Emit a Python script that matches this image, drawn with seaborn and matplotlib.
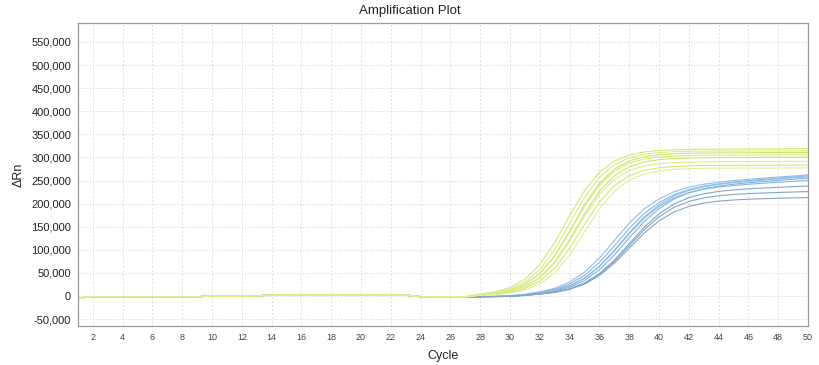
import matplotlib
matplotlib.use("Agg")
import matplotlib.pyplot as plt
import matplotlib.ticker as mticker
import seaborn as sns
import pandas as pd

# ---------------- data (ΔRn per cycle) ----------------
cycles = list(range(1, 51))

# shared baseline, cycles 1..27
baseline = [-4500, -1500, -1500, -1500, -1500, -1500, -1500, -1500, -1500, -300,
            0, 0, 500, 1800, 2000, 2000, 2000, 2000, 2000, 2000,
            2000, 2000, 1800, -1500, -2000, -2000, -2000]

# cycles 28..50 for each well
green_1 = [4300, 8900, 18300, 36300, 67900, 115600, 173800, 228200, 267900, 292200, 305300, 311800,
           315000, 316400, 317200, 317600, 317800, 318000, 318200, 318400, 318500, 318600, 318700]
green_2 = [3500, 7200, 14800, 29800, 57100, 100500, 157000, 213500, 256900, 284200, 299200, 306800,
           310500, 312400, 313400, 313700, 313800, 313900, 314000, 314100, 314200, 314300, 314400]
green_3 = [2900, 6000, 12400, 25300, 48800, 87600, 140600, 197300, 243800, 274700, 292300, 301300,
           305800, 308000, 309100, 309500, 309800, 310000, 310200, 310400, 310500, 310600, 310800]
green_4 = [2800, 5900, 12200, 24900, 48000, 86200, 138300, 194100, 239900, 270200, 287600, 296500,
           300900, 303000, 304100, 304500, 304800, 305000, 305200, 305300, 305500, 305600, 305700]
green_5 = [2300, 4800, 9900, 20400, 39900, 73500, 122100, 177900, 226500, 260100, 279900, 290100,
           295200, 297600, 298800, 299400, 299700, 300000, 300100, 300200, 300300, 300400, 300500]
green_6 = [2200, 4700, 9600, 19800, 38700, 71300, 118400, 172600, 219700, 252300, 271500, 281400,
           286300, 288700, 289800, 290400, 290700, 291000, 291000, 291200, 291300, 291400, 291500]
green_7 = [1800, 3800, 7900, 16300, 32300, 60400, 102900, 154700, 203100, 238400, 260100, 271700,
           277500, 280300, 281700, 282400, 282700, 283000, 283000, 283100, 283200, 283300, 283400]
green_8 = [1400, 3000, 6400, 13000, 26300, 50400, 88600, 138500, 188400, 226600, 250700, 264000,
           270600, 274000, 275600, 276400, 276700, 276900, 277000, 277000, 277100, 277200, 277300]

blue_1 = [-1300, -700, 500, 3800, 9000, 16600, 29900, 51400, 82300, 120000, 157700, 188600,
          210100, 225600, 235500, 241800, 246300, 249700, 252500, 255000, 257400, 259700, 262000]
blue_2 = [-1400, -900, 100, 3000, 7600, 14200, 25700, 44700, 72800, 108400, 146100, 178400,
          201900, 219300, 230400, 237700, 242700, 246500, 249600, 252400, 255000, 257500, 260000]
blue_3 = [-1500, -1100, -200, 2400, 6400, 12000, 21900, 38800, 64700, 98900, 137100, 171300,
          197200, 216300, 228400, 236200, 241500, 245200, 248300, 250900, 253400, 255700, 258000]
blue_4 = [-1600, -1200, -500, 1900, 5500, 10300, 18900, 33600, 56900, 88800, 125900, 161100,
          188900, 209900, 223400, 232100, 237800, 241900, 245100, 247800, 250300, 252700, 254900]
blue_5 = [-1500, -1100, -200, 2300, 6300, 11800, 21600, 38200, 63600, 97200, 134800, 168400,
          193800, 212200, 223800, 231100, 236000, 239200, 241900, 244100, 246200, 248100, 250000]
blue_6 = [-1700, -1300, -800, 1400, 4500, 8400, 15600, 28100, 48400, 77500, 113000, 148500,
          177600, 199100, 212800, 221200, 226300, 229600, 232000, 233700, 235300, 236700, 238000]
blue_7 = [-1700, -1400, -800, 1300, 4300, 8100, 15000, 27100, 46700, 74800, 109000, 143200,
          171300, 191700, 204600, 212300, 216800, 219700, 221600, 222900, 224100, 225100, 226000]
blue_8 = [-1700, -1400, -900, 1200, 4100, 7700, 14300, 25800, 44300, 71000, 103500, 136000,
          162700, 181800, 193900, 201100, 205300, 207800, 209500, 210600, 211500, 212300, 213000]

y_ticks = [-50000, 0, 50000, 100000, 150000, 200000, 250000, 300000, 350000, 400000, 450000, 500000, 550000]
x_ticks = list(range(2, 51, 2))

green_wells = [green_1, green_2, green_3, green_4, green_5, green_6, green_7, green_8]
blue_wells = [blue_1, blue_2, blue_3, blue_4, blue_5, blue_6, blue_7, blue_8]

green_colors = ["#d4e874", "#dbec84", "#d0e56c", "#d8ea7c", "#cfe46a", "#dcee8c", "#d3e772", "#e0f096"]
blue_colors = ["#8dbde8", "#86b7e4", "#93c0ea", "#82b3e0", "#8bb7dd", "#7ea9cd", "#82a8c6", "#84a6c2"]

rows = []
palette = {}
for i, w in enumerate(blue_wells):
    name = f"B{i+1}"
    palette[name] = blue_colors[i]
    for c, v in zip(cycles, baseline + w):
        rows.append({"Cycle": c, "dRn": v, "well": name})
for i, w in enumerate(green_wells):
    name = f"G{i+1}"
    palette[name] = green_colors[i]
    for c, v in zip(cycles, baseline + w):
        rows.append({"Cycle": c, "dRn": v, "well": name})
df = pd.DataFrame(rows)

# ---------------- plot ----------------
sns.set_theme(style="white")
plt.rcParams["font.family"] = ["Liberation Sans", "DejaVu Sans"]

fig = plt.figure(figsize=(8.2, 3.65), dpi=100)
ax = fig.add_axes([78 / 820, 1 - 326 / 365, (808 - 78) / 820, (326 - 23) / 365])

sns.lineplot(data=df, x="Cycle", y="dRn", hue="well", palette=palette,
             estimator=None, legend=False, linewidth=0.8, ax=ax, sort=False)

ax.set_xlim(1, 50)
ax.set_ylim(-65000, 591000)
ax.set_xticks(x_ticks)
ax.set_yticks(y_ticks)
ax.yaxis.set_major_formatter(mticker.FuncFormatter(lambda v, p: f"{int(v):,}"))

ax.xaxis.grid(True, color="#e0e0e0", linestyle=(0, (2, 2)), linewidth=0.7)
ax.yaxis.grid(True, color="#cccccc", linestyle=(0, (1, 2)), linewidth=0.7)
ax.set_axisbelow(True)

for s in ax.spines.values():
    s.set_color("#9a9a9a")
    s.set_linewidth(0.9)

ax.tick_params(axis="both", which="major", direction="out", length=3, width=0.7,
               color="#888888", pad=2)
ax.tick_params(axis="y", labelsize=8, labelcolor="#222222")
ax.tick_params(axis="x", labelsize=6.5, labelcolor="#444444")

ax.set_xlabel("Cycle", fontsize=9, color="#222222", labelpad=6)
ax.set_ylabel("ΔRn", fontsize=9, color="#222222", labelpad=5)
fig.text(410 / 820, 1 - 11 / 365, "Amplification Plot", ha="center", va="center",
         fontsize=9.5, color="#222222")

fig.savefig("out.png", dpi=100)
